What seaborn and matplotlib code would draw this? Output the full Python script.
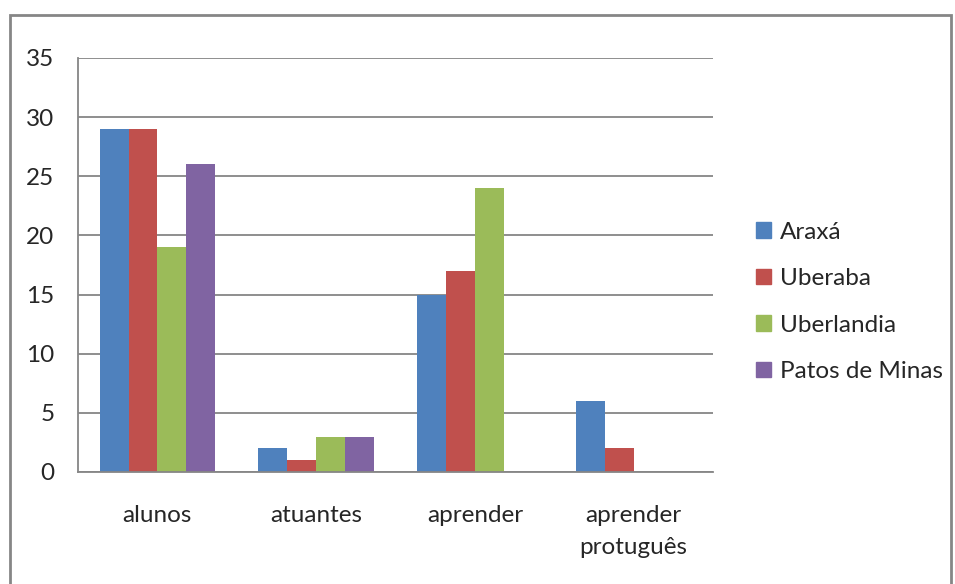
import matplotlib
matplotlib.use("Agg")
import matplotlib.pyplot as plt
import matplotlib.patches as mpatches
import seaborn as sns
import pandas as pd

categories = ["alunos", "atuantes", "aprender", "aprender\nprotuguês"]
series_names = ["Araxá", "Uberaba", "Uberlandia", "Patos de Minas"]
araxa = [29, 2, 15, 6]
uberaba = [29, 1, 17, 2]
uberlandia = [19, 3, 24, 0]
patos = [26, 3, 0, 0]
colors = ["#4F81BD", "#C0504D", "#9BBB59", "#8064A2"]
yticks = [0, 5, 10, 15, 20, 25, 30, 35]

rows = []
for name, vals in zip(series_names, [araxa, uberaba, uberlandia, patos]):
    for c, v in zip(categories, vals):
        rows.append({"cat": c, "serie": name, "val": v})
df = pd.DataFrame(rows)

sns.set_theme(style="white")
plt.rcParams["font.family"] = ["Lato", "DejaVu Sans"]
FS = 17.5

fig = plt.figure(figsize=(9.55, 5.84), dpi=100)
ax = fig.add_axes([78/955, 1-472/584, (713-78)/955, (472-58)/584])

sns.barplot(data=df, x="cat", y="val", hue="serie", order=categories,
            hue_order=series_names, palette=colors, width=4/5.5,
            linewidth=0, saturation=1, ax=ax, legend=False)

ax.set_xlim(-0.5, 3.5)
ax.set_ylim(0, 35)
ax.set_yticks(yticks)
ax.set_yticklabels([str(t) for t in yticks], fontsize=FS)
ax.yaxis.grid(True, color="#868686", linewidth=1.3)
ax.set_axisbelow(True)
ax.set_xlabel("")
ax.set_ylabel("")

# category labels centered, ticks at boundaries
ax.set_xticks([0, 1, 2, 3])
ax.set_xticklabels(categories, fontsize=FS, linespacing=1.6)
ax.tick_params(axis="x", which="major", length=0, pad=24)
ax.set_xticks([-0.5, 0.5, 1.5, 2.5, 3.5], minor=True)
ax.tick_params(axis="x", which="minor", length=7, width=1.3, color="#868686", direction="out")
ax.tick_params(axis="y", length=7, width=1.3, color="#868686", direction="out", pad=10)

for s in ["top", "right"]:
    ax.spines[s].set_visible(False)
for s in ["left", "bottom"]:
    ax.spines[s].set_color("#868686")
    ax.spines[s].set_linewidth(1.3)

handles = [mpatches.Patch(color=c, label=n) for c, n in zip(colors, series_names)]
fig.legend(handles=handles, loc="center left", bbox_to_anchor=(756/955, 1-302/584),
           frameon=False, fontsize=FS, handlelength=0.6, handleheight=0.6,
           handletextpad=0.4, labelspacing=1.05, borderpad=0, borderaxespad=0)

# outer chart border
border = mpatches.Rectangle((10/955, -0.01), (951-10)/955, 1-15/584 + 0.01,
                            transform=fig.transFigure, fill=False,
                            edgecolor="#868686", linewidth=2)
fig.add_artist(border)

fig.savefig("out.png", dpi=100)
